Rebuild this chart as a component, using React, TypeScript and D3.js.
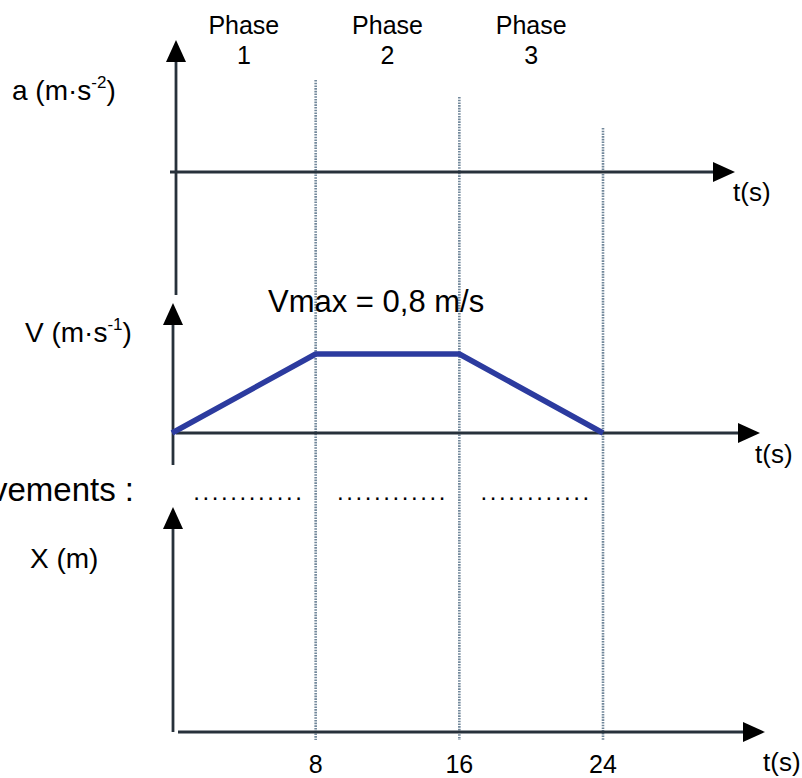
import React from "react";
import * as d3 from "d3";

// phases and time ticks
const phaseNames = ["1", "2", "3"];
const phaseBounds = [0, 8, 16, 24];
const tickLabels = ["8", "16", "24"];
const tickValues = [8, 16, 24];

// velocity curve
const vTimes = [0, 8, 16, 24];
const vValues = [0, 0.8, 0.8, 0];
const vMax = 0.8;

const W = 802;
const H = 778;
const FONT = "'Liberation Sans', Arial, sans-serif";
const AXIS = "#27313b";
const GUIDE = "#71879a";
const BLUE = "#2c3b9f";

const xScale = d3.scaleLinear().domain([0, 24]).range([172, 603]);
const vScale = d3.scaleLinear().domain([0, vMax]).range([433, 354]);

const upArrow = (x: number, tip: number) =>
  `M${x},${tip} L${x - 10},${tip + 22} L${x + 10},${tip + 22} Z`;
const rightArrow = (tip: number, y: number) =>
  `M${tip},${y} L${tip - 22},${y - 10} L${tip - 22},${y + 10} Z`;

const Unit = ({ x, y, main, sup }: { x: number; y: number; main: string; sup?: string }) => (
  <text x={x} y={y} fontSize={28} fontFamily={FONT} fill="#000">
    {main}
    {sup && (
      <tspan fontSize={17} dy={-12}>
        {sup}
      </tspan>
    )}
    {sup && <tspan dy={12}>)</tspan>}
  </text>
);

export default function App() {
  // each panel: vertical axis x, arrow tip, bottom; horizontal axis y, start, tip
  const panels = [
    { ax: 176, vTip: 40, vBottom: 295, hy: 172, hStart: 170, hTip: 735, tx: 733, ty: 201 },
    { ax: 173, vTip: 303, vBottom: 465, hy: 433, hStart: 176, hTip: 760, tx: 755, ty: 463 },
    { ax: 173, vTip: 507, vBottom: 732, hy: 732, hStart: 178, hTip: 765, tx: 763, ty: 771 },
  ];
  const guideTop = [80, 97, 128];

  const vLine = d3
    .line<number>()
    .x((_, i) => xScale(vTimes[i]))
    .y((d) => vScale(d));

  return (
    <svg
      width={W}
      height={H}
      style={{ position: "absolute", left: 0, top: 0, background: "#fff" }}
    >
      {/* dotted phase boundaries */}
      {tickValues.map((t, i) => (
        <line
          key={"g" + t}
          x1={xScale(t)}
          x2={xScale(t)}
          y1={guideTop[i]}
          y2={740}
          stroke={GUIDE}
          strokeWidth={2.6}
          strokeDasharray="1.6 1.1"
        />
      ))}

      {/* axes */}
      {panels.map((p, i) => (
        <g key={"p" + i}>
          <line x1={p.ax} x2={p.ax} y1={p.vTip + 18} y2={p.vBottom} stroke={AXIS} strokeWidth={2.8} />
          <path d={upArrow(p.ax, p.vTip)} fill="#000" />
          <line x1={p.hStart} x2={p.hTip - 18} y1={p.hy} y2={p.hy} stroke={AXIS} strokeWidth={2.8} />
          <path d={rightArrow(p.hTip, p.hy)} fill="#000" />
          <text x={p.tx} y={p.ty} fontSize={26} fontFamily={FONT}>
            t(s)
          </text>
        </g>
      ))}

      {/* velocity */}
      <path
        d={vLine(vValues) ?? ""}
        fill="none"
        stroke={BLUE}
        strokeWidth={5.5}
        strokeLinejoin="round"
      />
      <text x={268} y={312} fontSize={31} fontFamily={FONT}>
        Vmax = 0,8 m/s
      </text>

      {/* phase titles */}
      {phaseNames.map((n, i) => {
        const cx = xScale((phaseBounds[i] + phaseBounds[i + 1]) / 2);
        return (
          <text key={"ph" + n} x={cx} textAnchor="middle" fontSize={25} fontFamily={FONT}>
            <tspan x={cx} y={34}>Phase</tspan>
            <tspan x={cx} y={64}>{n}</tspan>
          </text>
        );
      })}

      {/* movement placeholders */}
      <text x={134} y={501} textAnchor="end" fontSize={33} fontFamily={FONT}>
        Mouvements :
      </text>
      {phaseNames.map((n, i) => (
        <text
          key={"dots" + n}
          x={(xScale(phaseBounds[i]) + xScale(phaseBounds[i + 1])) / 2 + 5}
          y={500}
          textAnchor="middle"
          fontSize={24}
          letterSpacing={2.6}
          fontFamily={FONT}
        >
          ............
        </text>
      ))}

      {/* y labels */}
      <Unit x={12} y={100} main="a (m·s" sup="-2" />
      <Unit x={25} y={342} main="V (m·s" sup="-1" />
      <Unit x={30} y={568} main="X (m)" />

      {/* time tick labels */}
      {tickValues.map((t, i) => (
        <text
          key={"t" + t}
          x={xScale(t)}
          y={773}
          textAnchor="middle"
          fontSize={25}
          fontFamily={FONT}
        >
          {tickLabels[i]}
        </text>
      ))}
    </svg>
  );
}
